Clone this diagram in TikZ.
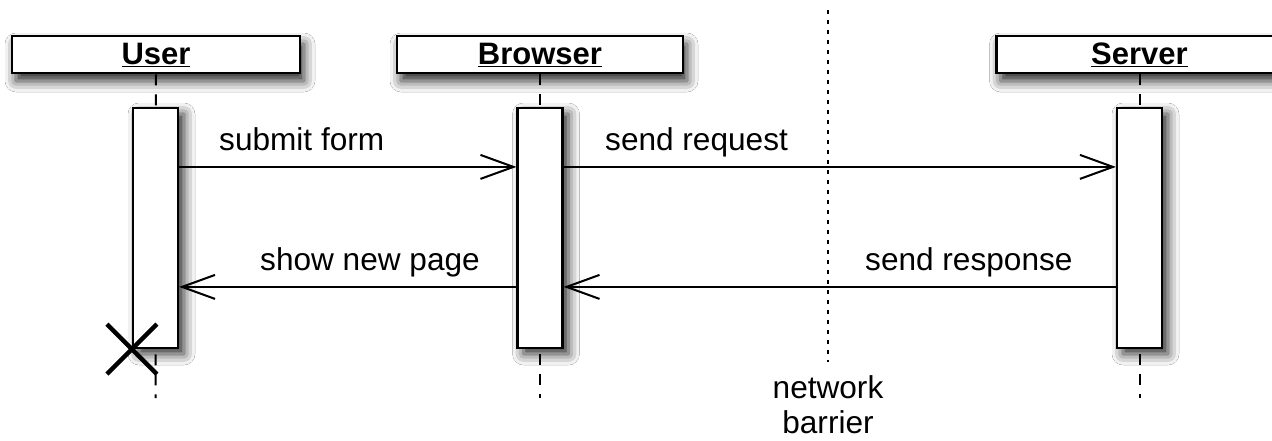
\documentclass[tikz,border=0pt]{standalone}
\usepackage{fontspec}
\setmainfont{Liberation Sans}
\usetikzlibrary{arrows.meta,shadows.blur}
\begin{document}
\begin{tikzpicture}[x=1pt,y=-1pt,
  every node/.style={font=\fontsize{31.6}{36}\selectfont},
  header/.style={draw, line width=2.8pt, fill=white, minimum height=37pt, inner sep=0pt,
    font=\fontsize{31}{36}\selectfont\bfseries,
    blur shadow={shadow xshift=4pt, shadow yshift=-8pt, shadow blur radius=11pt, shadow opacity=85}},
  act/.style={draw, line width=2.2pt, fill=white, minimum width=45pt, minimum height=240pt, inner sep=0pt,
    blur shadow={shadow xshift=6pt, shadow yshift=-6pt, shadow blur radius=11pt, shadow opacity=85}},
  lifeline/.style={line width=2pt, dash pattern=on 11pt off 9pt},
  msg/.style={line width=2pt, -{Straight Barb[length=33pt,width=24pt,line width=2pt]}},
  barrier/.style={line width=2.5pt, dash pattern=on 4pt off 6pt},
  lbl/.style={anchor=base west, inner sep=0pt}
]
\useasboundingbox (0,0) rectangle (1272,440);
\fill[white] (0,0) rectangle (1272,440);

% network barrier
\coordinate (nbtop) at (828,10);
\coordinate (nbbot) at (828,362);
\draw[barrier] (nbtop) -- (nbbot);
\node[anchor=base, inner sep=0pt] (nb1) at (828,398) {network};
\node[anchor=base, inner sep=0pt] (nb2) at (828,433) {barrier};

% lifeline ends
\coordinate (uend) at (155.5,398);
\coordinate (bend) at (540,398);
\coordinate (send) at (1139.5,398);

% headers
\node[header, minimum width=288pt] (user) at (156,54.5) {\underline{User}};
\node[header, minimum width=286pt] (browser) at (540,54.5) {\underline{Browser}};
\node[header, minimum width=286pt] (server) at (1139.5,54.5) {\underline{Server}};

% lifelines
\draw[lifeline] (user.south) -- (uend);
\draw[lifeline] (browser.south) -- (bend);
\draw[lifeline] (server.south) -- (send);

% activations
\node[act] (ua) at (155.5,228) {};
\node[act] (ba) at (540,228) {};
\node[act] (sa) at (1139.5,228) {};

% messages
\draw[msg] ([yshift=-60pt]ua.north east) -- ([yshift=-60pt]ba.north west);
\draw[msg] ([yshift=-60pt]ba.north east) -- ([yshift=-60pt]sa.north west);
\draw[msg] ([yshift=-180pt]sa.north west) -- ([yshift=-180pt]ba.north east);
\draw[msg] ([yshift=-180pt]ba.north west) -- ([yshift=-180pt]ua.north east);

\node[lbl] (l1) at (219,150) {submit form};
\node[lbl] (l2) at (605,150) {send request};
\node[lbl] (l3) at (260,270) {show new page};
\node[lbl] (l4) at (865,270) {send response};

% destruction
\draw[line width=4.5pt] ([shift={(-25pt,25pt)}]ua.south west) -- ([shift={(25pt,-25pt)}]ua.south west);
\draw[line width=4.5pt] ([shift={(-25pt,-25pt)}]ua.south west) -- ([shift={(25pt,25pt)}]ua.south west);
\end{tikzpicture}
\end{document}
